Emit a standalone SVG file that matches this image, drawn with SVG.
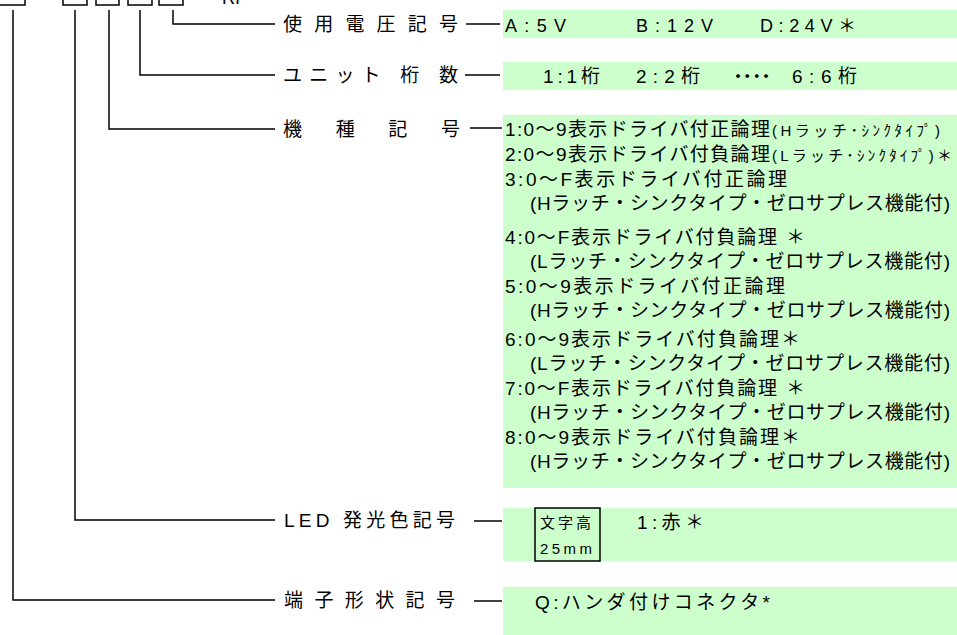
<svg xmlns="http://www.w3.org/2000/svg" width="957" height="635" viewBox="0 0 957 635">
<style>
text{font-family:"Liberation Sans","Noto Sans CJK JP",sans-serif;fill:#000;}
.lbl{font-size:19px;}
.t{font-size:18px;}
.j{font-size:19px;}
.s{font-size:15px;}
.bg{fill:#CCFFCC;stroke:none;}
.ln{fill:none;stroke:#000;stroke-width:1.5;}
.box{fill:#fff;stroke:#000;stroke-width:1.5;}
</style>
<rect width="957" height="635" fill="#fff"/>
<g id="code">
<rect class="box" x="-5" y="-20" width="30" height="25"/>
<rect class="box" x="63" y="-20" width="24" height="25"/>
<rect class="box" x="96" y="-20" width="23" height="25"/>
<rect class="box" x="128" y="-20" width="24" height="25"/>
<rect class="box" x="159" y="-20" width="24" height="25"/>
<text class="t" x="222" y="4">RI</text>
</g>
<g id="connectors">
<path class="ln" d="M173 10V24H275"/>
<path class="ln" d="M140 10V75H275"/>
<path class="ln" d="M109 10V129H275"/>
<path class="ln" d="M75 10V520H275"/>
<path class="ln" d="M13 10V600H275"/>
<path class="ln" d="M466 24H500"/>
<path class="ln" d="M465 75H500"/>
<path class="ln" d="M470 128H502"/>
<path class="ln" d="M474 521H502"/>
<path class="ln" d="M474 601H502"/>
</g>
<g id="voltage">
<text class="lbl" x="283" y="31" textLength="175" lengthAdjust="spacing">使用電圧記号</text>
<rect class="bg" x="503" y="10" width="454" height="28"/>
<text class="t" x="505" y="32" textLength="61" lengthAdjust="spacing">A:5V</text>
<text class="t" x="636" y="32" textLength="77" lengthAdjust="spacing">B:12V</text>
<text class="t" x="760" y="32" textLength="96" lengthAdjust="spacing">D:24V＊</text>
</g>
<g id="units">
<text class="lbl" x="283" y="82" textLength="175" lengthAdjust="spacing">ユニット 桁 数</text>
<rect class="bg" x="503" y="62" width="454" height="28"/>
<text class="j" x="543" y="83" textLength="57" lengthAdjust="spacing">1:1桁</text>
<text class="j" x="636" y="83" textLength="64" lengthAdjust="spacing">2:2桁</text>
<text class="t" x="729" y="83" textLength="46" lengthAdjust="spacing">・・・・</text>
<text class="j" x="792" y="83" textLength="65" lengthAdjust="spacing">6:6桁</text>
</g>
<g id="model">
<text class="lbl" x="283" y="136" textLength="177" lengthAdjust="spacing">機 種 記 号</text>
<rect class="bg" x="503" y="115" width="454" height="373"/>
<text class="j" x="505" y="136" textLength="265" lengthAdjust="spacing">1:0～9表示ドライバ付正論理</text>
<text class="s" x="772" y="136" textLength="168" lengthAdjust="spacing">(Hラッチ･ｼﾝｸﾀｲﾌﾟ)</text>
<text class="j" x="505" y="161" textLength="265" lengthAdjust="spacing">2:0～9表示ドライバ付負論理</text>
<text class="s" x="772" y="161" textLength="180" lengthAdjust="spacing">(Lラッチ･ｼﾝｸﾀｲﾌﾟ)＊</text>
<text class="j" x="505" y="186" textLength="282" lengthAdjust="spacing">3:0～F表示ドライバ付正論理</text>
<text class="j" x="530" y="210" textLength="420" lengthAdjust="spacing">(Hラッチ・シンクタイプ・ゼロサプレス機能付)</text>
<text class="j" x="505" y="244" textLength="300" lengthAdjust="spacing">4:0～F表示ドライバ付負論理 ＊</text>
<text class="j" x="530" y="268" textLength="420" lengthAdjust="spacing">(Lラッチ・シンクタイプ・ゼロサプレス機能付)</text>
<text class="j" x="505" y="293" textLength="280" lengthAdjust="spacing">5:0～9表示ドライバ付正論理</text>
<text class="j" x="530" y="317" textLength="420" lengthAdjust="spacing">(Hラッチ・シンクタイプ・ゼロサプレス機能付)</text>
<text class="j" x="505" y="346" textLength="295" lengthAdjust="spacing">6:0～9表示ドライバ付負論理＊</text>
<text class="j" x="530" y="370" textLength="420" lengthAdjust="spacing">(Lラッチ・シンクタイプ・ゼロサプレス機能付)</text>
<text class="j" x="505" y="395" textLength="300" lengthAdjust="spacing">7:0～F表示ドライバ付負論理 ＊</text>
<text class="j" x="530" y="419" textLength="420" lengthAdjust="spacing">(Hラッチ・シンクタイプ・ゼロサプレス機能付)</text>
<text class="j" x="505" y="444" textLength="295" lengthAdjust="spacing">8:0～9表示ドライバ付負論理＊</text>
<text class="j" x="530" y="468" textLength="420" lengthAdjust="spacing">(Hラッチ・シンクタイプ・ゼロサプレス機能付)</text>
</g>
<g id="led">
<text class="lbl" x="284" y="527" textLength="171" lengthAdjust="spacing">LED 発光色記号</text>
<rect class="bg" x="503" y="508" width="454" height="53"/>
<rect fill="none" stroke="#000" stroke-width="1.5" x="535" y="508" width="65" height="53"/>
<text x="540" y="528" style="font-size:15px" textLength="51" lengthAdjust="spacing">文字高</text>
<text x="540" y="554" style="font-size:15px" textLength="52" lengthAdjust="spacing">25mm</text>
<text class="j" x="637" y="529" textLength="67" lengthAdjust="spacing">1:赤＊</text>
</g>
<g id="terminal">
<text class="lbl" x="284" y="607" textLength="171" lengthAdjust="spacing">端子形状記号</text>
<rect class="bg" x="503" y="587" width="454" height="48"/>
<text class="j" x="535" y="609" textLength="235" lengthAdjust="spacing">Q:ハンダ付けコネクタ*</text>
</g>
</svg>
